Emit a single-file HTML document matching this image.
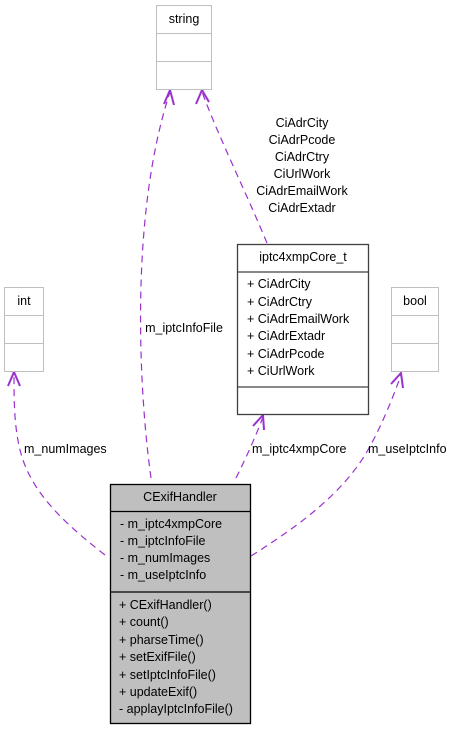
<!DOCTYPE html>
<html><head><meta charset="utf-8"><style>
html,body{margin:0;padding:0;background:#fff;}
svg{display:block;}
text{font-family:"Liberation Sans",sans-serif;font-size:12.5px;fill:#000;}
</style></head><body>
<svg width="457" height="731" viewBox="0 0 457 731" xmlns="http://www.w3.org/2000/svg">
<g fill="none" stroke="#9a32cd" stroke-width="1.2" stroke-dasharray="7,5">
<path d="M151,478 C140,400 128,220 170,92"/>
<path d="M267,243 C245,190 220,140 202,92"/>
<path d="M236,478 C246,458 255,438 263,417"/>
<path d="M105,555 C60,520 30,490 20,450 C14,425 14,400 14,375"/>
<path d="M251,556 C300,525 340,495 365,455 C380,430 392,400 401,375"/>
</g>
<g fill="none" stroke="#9a32cd" stroke-width="2" stroke-linejoin="miter">
<polyline points="164,104 170,90 174,105"/>
<polyline points="196,104 202,90 209,102"/>
<polyline points="253,426 263,415 264,430"/>
<polyline points="8,386 14,372 20,386"/>
<polyline points="391,384 401,373 403,388"/>
</g>
<text x="184" y="332" text-anchor="middle">m_iptcInfoFile</text>
<g text-anchor="middle">
<text x="302" y="127">CiAdrCity</text>
<text x="302" y="144">CiAdrPcode</text>
<text x="302" y="161">CiAdrCtry</text>
<text x="302" y="178">CiUrlWork</text>
<text x="302" y="195">CiAdrEmailWork</text>
<text x="302" y="212">CiAdrExtadr</text>
</g>
<text x="24" y="453">m_numImages</text>
<text x="252" y="453">m_iptc4xmpCore</text>
<text x="368" y="453">m_useIptcInfo</text>
<g fill="#fff" stroke="#bfbfbf" stroke-width="1">
<rect x="156.5" y="5.5" width="55" height="84"/>
<line x1="156.5" y1="33.5" x2="211.5" y2="33.5"/>
<line x1="156.5" y1="61.5" x2="211.5" y2="61.5"/>
<rect x="4.5" y="287.5" width="39" height="84"/>
<line x1="4.5" y1="315.5" x2="43.5" y2="315.5"/>
<line x1="4.5" y1="343.5" x2="43.5" y2="343.5"/>
<rect x="391.5" y="287.5" width="47" height="84"/>
<line x1="391.5" y1="315.5" x2="438.5" y2="315.5"/>
<line x1="391.5" y1="343.5" x2="438.5" y2="343.5"/>
</g>
<text x="184" y="23" text-anchor="middle">string</text>
<text x="24" y="305" text-anchor="middle">int</text>
<text x="415" y="305" text-anchor="middle">bool</text>
<g fill="#fff" stroke="#404040" stroke-width="1.3">
<rect x="237.5" y="244.5" width="131" height="170"/>
<line x1="237.5" y1="272" x2="368.5" y2="272"/>
<line x1="237.5" y1="387" x2="368.5" y2="387"/>
</g>
<text x="303" y="261" text-anchor="middle">iptc4xmpCore_t</text>
<text x="247" y="288">+ CiAdrCity</text>
<text x="247" y="306">+ CiAdrCtry</text>
<text x="247" y="323">+ CiAdrEmailWork</text>
<text x="247" y="340">+ CiAdrExtadr</text>
<text x="247" y="358">+ CiAdrPcode</text>
<text x="247" y="375">+ CiUrlWork</text>
<g fill="#bfbfbf" stroke="#000" stroke-width="1.3">
<rect x="110.5" y="484.5" width="140" height="239"/>
<line x1="110.5" y1="511.5" x2="250.5" y2="511.5"/>
<line x1="110.5" y1="592" x2="250.5" y2="592"/>
</g>
<text x="180" y="501" text-anchor="middle">CExifHandler</text>
<text x="120" y="528">- m_iptc4xmpCore</text>
<text x="120" y="545">- m_iptcInfoFile</text>
<text x="120" y="562">- m_numImages</text>
<text x="120" y="579">- m_useIptcInfo</text>
<text x="119" y="609">+ CExifHandler()</text>
<text x="119" y="626">+ count()</text>
<text x="119" y="644">+ pharseTime()</text>
<text x="119" y="661">+ setExifFile()</text>
<text x="119" y="679">+ setIptcInfoFile()</text>
<text x="119" y="696">+ updateExif()</text>
<text x="119" y="713">- applayIptcInfoFile()</text>
</svg>
</body></html>
